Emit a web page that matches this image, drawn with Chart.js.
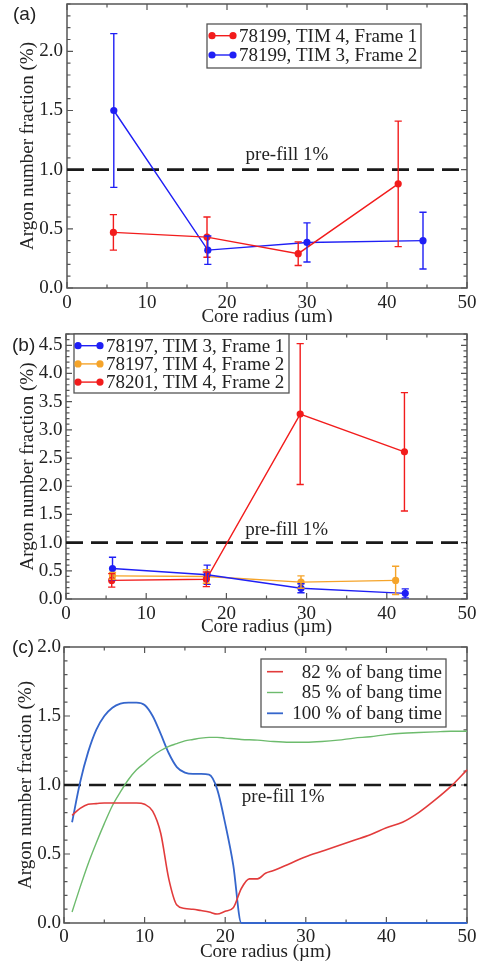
<!DOCTYPE html>
<html>
<head>
<meta charset="utf-8">
<script src="https://cdn.jsdelivr.net/npm/chart.js@4.4.0/dist/chart.umd.min.js"></script>
<style>
  body { margin: 0; background: #fff; }
  canvas { display: block; }
</style>
</head>
<body>
<canvas id="panel-a" width="489" height="322"></canvas>
<canvas id="panel-b" width="489" height="314"></canvas>
<canvas id="panel-c" width="489" height="327"></canvas>
<script>
// ---- panel (a) ----
const labelsA = ['78199, TIM 4, Frame 1', '78199, TIM 3, Frame 2'];
const radiusA1 = [5.8, 17.5, 28.9, 41.4];
const fracA1 = [0.47, 0.43, 0.29, 0.88];
const errA1 = [0.15, 0.17, 0.10, 0.53];
const radiusA2 = [5.85, 17.6, 30.0, 44.5];
const fracA2 = [1.50, 0.32, 0.385, 0.40];
const errA2 = [0.65, 0.12, 0.165, 0.24];

// ---- panel (b) ----
const labelsB = ['78197, TIM 3, Frame 1', '78197, TIM 4, Frame 2', '78201, TIM 4, Frame 2'];
const radiusB1 = [5.8, 17.6, 29.3, 42.3];
const fracB1 = [0.54, 0.43, 0.19, 0.10];
const errB1 = [0.20, 0.17, 0.08, 0.08];
const radiusB2 = [5.8, 17.5, 29.3, 41.1];
const fracB2 = [0.41, 0.40, 0.30, 0.33];
const errB2 = [0.06, 0.12, 0.11, 0.25];
const radiusB3 = [5.7, 17.5, 29.2, 42.2];
const fracB3 = [0.33, 0.35, 3.28, 2.61];
const errB3 = [0.12, 0.13, 1.25, 1.05];

// ---- panel (c) ----
const labelsC = ['82 % of bang time', '85 % of bang time', '100 % of bang time'];
const radiusC82 = [1, 2, 3, 4, 5, 6, 7, 8, 9, 10, 11, 12, 13, 14, 15, 16, 17, 18, 19, 20, 21, 22, 23, 24, 25, 26, 28, 30, 32, 34, 36, 38, 40, 42, 44, 46, 48, 50];
const frac82 = [0.78, 0.83, 0.86, 0.865, 0.87, 0.87, 0.87, 0.87, 0.87, 0.86, 0.81, 0.65, 0.32, 0.13, 0.105, 0.10, 0.09, 0.08, 0.065, 0.085, 0.11, 0.25, 0.32, 0.32, 0.36, 0.38, 0.43, 0.48, 0.52, 0.56, 0.60, 0.64, 0.69, 0.73, 0.80, 0.89, 0.99, 1.11];
const radiusC85 = [1, 2, 3, 4, 5, 6, 7, 8, 9, 10, 11, 12, 13, 14, 15, 16, 17, 18, 19, 20, 22, 24, 26, 28, 30, 32, 34, 36, 38, 40, 42, 44, 46, 48, 50];
const frac85 = [0.08, 0.26, 0.43, 0.58, 0.72, 0.85, 0.95, 1.04, 1.11, 1.16, 1.21, 1.25, 1.28, 1.30, 1.32, 1.33, 1.34, 1.345, 1.345, 1.34, 1.33, 1.325, 1.315, 1.31, 1.31, 1.315, 1.325, 1.34, 1.35, 1.365, 1.375, 1.38, 1.385, 1.39, 1.39];
const radiusC100 = [1, 2, 3, 4, 5, 6, 7, 8, 9, 10, 11, 12, 13, 14, 15, 16, 17, 18, 19, 20, 21, 22, 30, 40, 50];
const frac100 = [0.73, 1.02, 1.24, 1.40, 1.50, 1.56, 1.59, 1.597, 1.597, 1.58, 1.50, 1.37, 1.23, 1.13, 1.09, 1.08, 1.08, 1.075, 0.97, 0.72, 0.42, 0.0, 0.0, 0.0, 0.0];

const prefillX = [0, 50];
const prefillY = [1, 1];

const SERIF = 'Liberation Serif';
const INK = '#222';
const FRAME = '#555';

function pts(xs, ys) {
    return xs.map((x, i) => ({ x: x, y: ys[i] }));
}

function errorSet(label, color, xs, ys, errs, order) {
    return {
        label: label,
        data: pts(xs, ys),
        errors: errs,
        order: order,
        borderColor: color,
        backgroundColor: color,
        borderWidth: 1.4,
        pointRadius: 3.6,
        pointBorderWidth: 0,
        tension: 0
    };
}

function curveSet(label, color, xs, ys, width) {
    return {
        label: label,
        data: pts(xs, ys),
        borderColor: color,
        backgroundColor: color,
        borderWidth: width,
        pointRadius: 0,
        cubicInterpolationMode: 'monotone',
        clip: 3
    };
}

function prefillSet() {
    return {
        label: 'pre-fill 1%',
        data: pts(prefillX, prefillY),
        borderColor: '#1a1a1a',
        borderWidth: 2.6,
        borderDash: [17, 8],
        pointRadius: 0,
        order: 10,
        dashedRef: true
    };
}

// frame + inward ticks on all four sides, error bars, legend box and notes
const gracePlugin = {
    id: 'grace',
    beforeDatasetsDraw(chart, args, opts) {
        const ctx = chart.ctx;
        const a = chart.chartArea;
        const xs = chart.scales.x, ys = chart.scales.y;
        ctx.save();
        ctx.strokeStyle = FRAME;
        ctx.lineWidth = 1.5;
        ctx.strokeRect(a.left, a.top, a.right - a.left, a.bottom - a.top);

        ctx.lineWidth = 1.2;
        ctx.beginPath();
        const eachTick = (scale, major, minor, fn) => {
            const n = Math.round((scale.max - scale.min) / minor);
            for (let k = 0; k <= n; k++) {
                const v = scale.min + k * minor;
                if (v > scale.max + 1e-9) break;
                const isMajor = Math.abs(v / major - Math.round(v / major)) < 1e-6;
                fn(scale.getPixelForValue(v), isMajor ? 6 : 3.5);
            }
        };
        eachTick(xs, opts.majorX, opts.minorX, (p, len) => {
            ctx.moveTo(p, a.bottom); ctx.lineTo(p, a.bottom - len);
            ctx.moveTo(p, a.top); ctx.lineTo(p, a.top + len);
        });
        eachTick(ys, opts.majorY, opts.minorY, (p, len) => {
            ctx.moveTo(a.left, p); ctx.lineTo(a.left + len, p);
            ctx.moveTo(a.right, p); ctx.lineTo(a.right - len, p);
        });
        ctx.stroke();
        ctx.restore();
    },
    afterDatasetsDraw(chart) {
        const ctx = chart.ctx;
        const ys = chart.scales.y;
        ctx.save();
        chart.data.datasets.forEach((ds, i) => {
            if (!ds.errors) return;
            const meta = chart.getDatasetMeta(i);
            ctx.strokeStyle = ds.borderColor;
            ctx.lineWidth = 1.4;
            meta.data.forEach((pt, j) => {
                const v = ds.data[j].y, e = ds.errors[j];
                const y1 = ys.getPixelForValue(v + e);
                const y2 = ys.getPixelForValue(v - e);
                ctx.beginPath();
                ctx.moveTo(pt.x, y1); ctx.lineTo(pt.x, y2);
                ctx.moveTo(pt.x - 3.6, y1); ctx.lineTo(pt.x + 3.6, y1);
                ctx.moveTo(pt.x - 3.6, y2); ctx.lineTo(pt.x + 3.6, y2);
                ctx.stroke();
            });
        });
        ctx.restore();
    },
    afterDraw(chart, args, opts) {
        const ctx = chart.ctx;
        const xs = chart.scales.x, ys = chart.scales.y;
        ctx.save();

        // notes (pre-fill text)
        ctx.fillStyle = INK;
        ctx.font = '19px "' + SERIF + '"';
        ctx.textAlign = 'center';
        ctx.textBaseline = 'middle';
        ctx.fillText(opts.note.text, xs.getPixelForValue(opts.note.x), ys.getPixelForValue(opts.note.y));

        // legend
        const lg = opts.legend;
        ctx.fillStyle = '#fff';
        ctx.fillRect(lg.x, lg.y, lg.w, lg.h);
        ctx.strokeStyle = FRAME;
        ctx.lineWidth = 1.3;
        ctx.strokeRect(lg.x, lg.y, lg.w, lg.h);
        const rows = chart.data.datasets.filter(ds => !ds.dashedRef);
        ctx.font = '19px "' + SERIF + '"';
        ctx.textBaseline = 'middle';
        ctx.textAlign = lg.align;
        rows.forEach((ds, i) => {
            const cy = lg.y + lg.first + i * lg.rowH;
            ctx.strokeStyle = ds.borderColor;
            ctx.lineWidth = ds.borderWidth;
            ctx.beginPath();
            ctx.moveTo(lg.sx1, cy); ctx.lineTo(lg.sx2, cy);
            ctx.stroke();
            if (lg.dots) {
                ctx.fillStyle = ds.backgroundColor;
                [lg.sx1, lg.sx2].forEach(sx => {
                    ctx.beginPath();
                    ctx.arc(sx, cy, 3.6, 0, Math.PI * 2);
                    ctx.fill();
                });
            }
            ctx.fillStyle = INK;
            ctx.fillText(ds.label, lg.tx, cy + 1);
        });

        // panel letter
        ctx.fillStyle = INK;
        ctx.font = '19px "Liberation Sans"';
        ctx.textAlign = 'left';
        ctx.fillText(opts.panel.text, opts.panel.x, opts.panel.y);
        ctx.restore();
    }
};

function panelOptions(g) {
    const tickFont = { family: SERIF, size: 19 };
    return {
        responsive: false,
        animation: false,
        events: [],
        layout: { padding: { left: 0, top: g.top, right: 489 - g.right, bottom: 0 } },
        plugins: {
            legend: { display: false },
            tooltip: { enabled: false },
            grace: g
        },
        scales: {
            x: {
                type: 'linear',
                min: 0,
                max: 50,
                border: { display: false },
                grid: { display: false, drawTicks: false },
                ticks: { stepSize: 10, padding: g.xPad, color: INK, font: tickFont, maxRotation: 0 },
                title: {
                    display: true, text: 'Core radius (µm)', color: INK,
                    font: { family: SERIF, size: 19 }, padding: { top: 0, bottom: g.titlePad }
                },
                afterFit: s => {
                    s.height = g.h - g.bottom;
                    s.paddingLeft = 0;
                    s.paddingRight = 0;
                }
            },
            y: {
                type: 'linear',
                min: 0,
                max: g.yMax,
                border: { display: false },
                grid: { display: false, drawTicks: false },
                ticks: {
                    stepSize: 0.5, includeBounds: false, padding: g.yPad, color: INK, font: tickFont,
                    callback: v => v.toFixed(1)
                },
                title: {
                    display: true, text: 'Argon number fraction (%)', color: INK,
                    font: { family: SERIF, size: 19 }, padding: { top: g.yTitlePad, bottom: 0 }
                },
                afterFit: s => {
                    s.width = g.left;
                    s.paddingTop = 0;
                    s.paddingBottom = 0;
                }
            }
        }
    };
}

Chart.register(gracePlugin);

new Chart(document.getElementById('panel-a'), {
    type: 'line',
    data: {
        datasets: [
            errorSet(labelsA[0], '#f21c1c', radiusA1, fracA1, errA1, 0),
            errorSet(labelsA[1], '#1f1ff5', radiusA2, fracA2, errA2, 1),
            prefillSet()
        ]
    },
    options: panelOptions({
        h: 322, left: 67, right: 467, top: 4, bottom: 288, yMax: 2.4,
        xPad: 3.5, yPad: 4, titlePad: -6, yTitlePad: 17,
        majorX: 10, minorX: 5, majorY: 0.5, minorY: 0.1,
        note: { text: 'pre-fill 1%', x: 27.5, y: 1.12 },
        legend: { x: 207, y: 24, w: 214, h: 44, first: 11.7, rowH: 19.3, sx1: 212, sx2: 233, tx: 239, align: 'left', dots: true },
        panel: { text: '(a)', x: 13, y: 15 }
    })
});

new Chart(document.getElementById('panel-b'), {
    type: 'line',
    data: {
        datasets: [
            errorSet(labelsB[0], '#1f1ff5', radiusB1, fracB1, errB1, 1),
            errorSet(labelsB[1], '#f5a42a', radiusB2, fracB2, errB2, 2),
            errorSet(labelsB[2], '#f21c1c', radiusB3, fracB3, errB3, 0),
            prefillSet()
        ]
    },
    options: panelOptions({
        h: 314, left: 66, right: 467, top: 12, bottom: 277, yMax: 4.7,
        xPad: 4, yPad: 3.5, titlePad: -2.5, yTitlePad: 17,
        majorX: 10, minorX: 5, majorY: 0.5, minorY: 0.1,
        note: { text: 'pre-fill 1%', x: 27.5, y: 1.23 },
        legend: { x: 74, y: 12, w: 215, h: 59, first: 11.7, rowH: 18.2, sx1: 78, sx2: 100, tx: 106, align: 'left', dots: true },
        panel: { text: '(b)', x: 12, y: 23.5 }
    })
});

new Chart(document.getElementById('panel-c'), {
    type: 'line',
    data: {
        datasets: [
            curveSet(labelsC[0], '#e23b3b', radiusC82, frac82, 1.6),
            curveSet(labelsC[1], '#6dbb6d', radiusC85, frac85, 1.4),
            curveSet(labelsC[2], '#3566cc', radiusC100, frac100, 1.8),
            prefillSet()
        ]
    },
    options: panelOptions({
        h: 327, left: 64, right: 467, top: 11, bottom: 287, yMax: 2.0,
        xPad: 3, yPad: 3, titlePad: 0, yTitlePad: 15,
        majorX: 10, minorX: 5, majorY: 0.5, minorY: 0.1,
        note: { text: 'pre-fill 1%', x: 27.2, y: 0.91 },
        legend: { x: 261, y: 23, w: 185, h: 68, first: 12.7, rowH: 20.8, sx1: 267, sx2: 283, tx: 442, align: 'right', dots: false },
        panel: { text: '(c)', x: 12, y: 12 }
    })
});
</script>
</body>
</html>
